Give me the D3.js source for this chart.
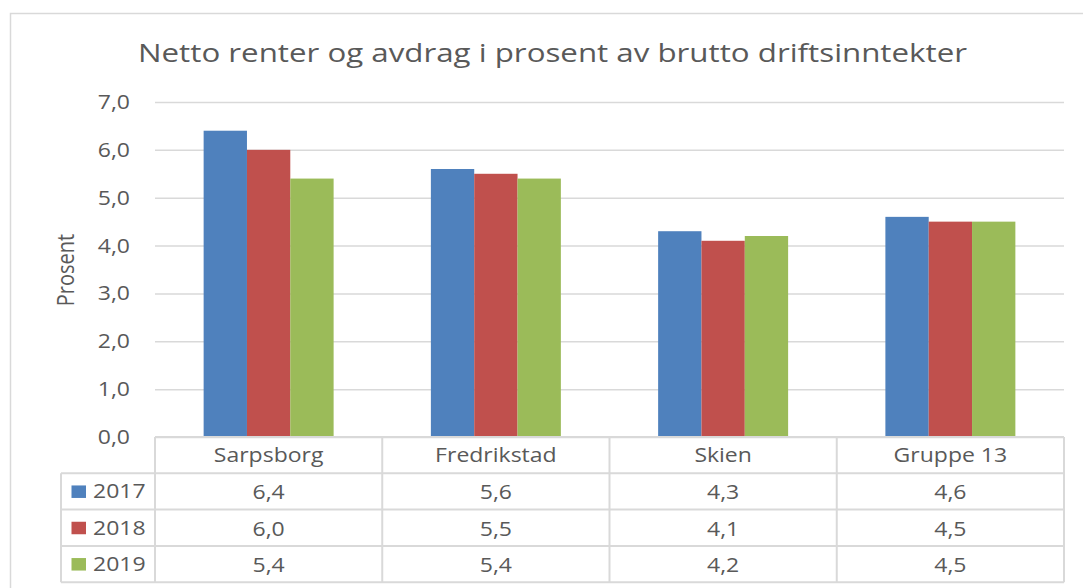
<!DOCTYPE html>
<html>
<head>
<meta charset="utf-8">
<script src="https://cdnjs.cloudflare.com/ajax/libs/d3/7.8.5/d3.min.js"></script>
<style>
    html, body { margin: 0; padding: 0; background: #fff; }
    #chart { width: 1083px; height: 588px; }
    text { font-family: "Open Sans", sans-serif; fill: #595959; }
</style>
</head>
<body>
<div id="chart"></div>
<script>
// data
const categories = ["Sarpsborg", "Fredrikstad", "Skien", "Gruppe 13"];
const seriesNames = ["2017", "2018", "2019"];
const values2017 = [6.4, 5.6, 4.3, 4.6];
const values2018 = [6.0, 5.5, 4.1, 4.5];
const values2019 = [5.4, 5.4, 4.2, 4.5];
const yTicks = [0, 1, 2, 3, 4, 5, 6, 7];
const titleText = "Netto renter og avdrag i prosent av brutto driftsinntekter";
const yLabel = "Prosent";

function TableBarChart() {

    let self = this;

    self.initialize = function(conf) {
        self.el = document.getElementById(conf.el);
        self.width = 1083;
        self.height = 588;
        self.color = conf.color;
        self.sx = 1.15;      // the source text is a bit wider than normal
        self.grid = "#d9d9d9";

        self.plot = {left: 155, right: 1064, top: 102, bottom: 437};
        self.rowH = 36.3;
        self.legendLeft = 61;

        self.series = seriesNames.map(function(name, i) {
            return {name: name, values: conf.values[i], index: i};
        });

        self.fmt = function(v) { return d3.format(".1f")(v).replace(".", ","); };

        self.render();
    };

    self.text = function(g, x, y, s, size, anchor, rotate) {
        return g.append("text")
            .attr("transform", "translate(" + x + "," + y + ") scale(" + self.sx + ",1)" + (rotate ? " rotate(" + rotate + ")" : ""))
            .attr("text-anchor", anchor || "middle")
            .style("font-size", size + "px")
            .text(s);
    };

    self.render = function() {
        self.svg = d3.select(self.el).append("svg")
            .attr("width", self.width)
            .attr("height", self.height);

        // outer chart border
        self.svg.append("rect")
            .attr("x", 10.5).attr("y", 13.5)
            .attr("width", 1100).attr("height", 600)
            .attr("fill", "none")
            .attr("stroke", self.grid)
            .attr("stroke-width", 1.5);

        self.x = d3.scaleBand()
            .domain(categories)
            .range([self.plot.left, self.plot.right])
            .paddingInner(0.428)
            .paddingOuter(0.214);

        self.xs = d3.scaleBand()
            .domain(seriesNames)
            .range([0, self.x.bandwidth()]);

        self.y = d3.scaleLinear()
            .domain([0, 7])
            .range([self.plot.bottom, self.plot.top]);

        self.svg.append("text")
            .attr("x", 552.5)
            .attr("y", 62)
            .attr("text-anchor", "middle")
            .attr("textLength", 829)
            .attr("lengthAdjust", "spacingAndGlyphs")
            .style("font-size", "25px")
            .text(titleText);

        self.renderGrid();
        self.renderBars();
        self.renderTable();
    };

    self.renderGrid = function() {
        let yAxis = d3.axisLeft(self.y)
            .tickValues(yTicks)
            .tickSize(-(self.plot.right - self.plot.left))
            .tickFormat("");

        let ga = self.svg.append("g")
            .attr("transform", "translate(" + self.plot.left + ",0)")
            .call(yAxis);
        ga.select(".domain").remove();
        ga.selectAll(".tick line")
            .attr("stroke", self.grid)
            .attr("stroke-width", 1.5);

        yTicks.forEach(function(t) {
            self.text(self.svg, 130, self.y(t) + 7, self.fmt(t), 20, "end");
        });

        self.text(self.svg, 74, 270, yLabel, 20, "middle", -90);
    };

    self.renderBars = function() {
        let groups = self.svg.selectAll("g.series")
            .data(self.series)
            .enter()
            .append("g")
            .attr("class", "series")
            .attr("fill", function(d) { return self.color[d.index]; });

        groups.selectAll("rect")
            .data(function(d) {
                return d.values.map(function(v, i) { return {cat: categories[i], name: d.name, value: v}; });
            })
            .enter()
            .append("rect")
            .attr("x", function(d) { return self.x(d.cat) + self.xs(d.name); })
            .attr("width", self.xs.bandwidth())
            .attr("y", function(d) { return self.y(d.value); })
            .attr("height", function(d) { return self.y(0) - self.y(d.value); });
    };

    self.renderTable = function() {
        let g = self.svg.append("g").attr("class", "data-table");
        let top = self.plot.bottom;
        let rowH = self.rowH;
        let nRows = self.series.length + 1;
        let bottom = top + nRows * rowH;
        let step = self.x.step();
        let colEdges = categories.map(function(c, i) { return self.plot.left + i * step; });
        colEdges.push(self.plot.right);

        let line = function(x1, y1, x2, y2) {
            g.append("line")
                .attr("x1", x1).attr("y1", y1)
                .attr("x2", x2).attr("y2", y2)
                .attr("stroke", self.grid)
                .attr("stroke-width", 2);
        };

        // horizontal lines
        line(self.plot.left, top, self.plot.right, top);
        for (let r = 1; r <= nRows; r++) {
            line(self.legendLeft, top + r * rowH, self.plot.right, top + r * rowH);
        }
        // vertical lines
        colEdges.forEach(function(x) { line(x, top, x, bottom); });
        line(self.legendLeft, top + rowH, self.legendLeft, bottom);

        // header row
        categories.forEach(function(c) {
            self.text(g, self.x(c) + self.x.bandwidth() / 2, top + rowH / 2 + 7, c, 20);
        });

        // series rows
        self.series.forEach(function(s, r) {
            let cy = top + (r + 1) * rowH + rowH / 2;
            g.append("rect")
                .attr("x", 71.5).attr("y", cy - 6)
                .attr("width", 14.5).attr("height", 12.5)
                .attr("fill", self.color[s.index]);
            self.text(g, 93, cy + 7, s.name, 20, "start");
            s.values.forEach(function(v, i) {
                self.text(g, self.x(categories[i]) + self.x.bandwidth() / 2, cy + 8, self.fmt(v), 20);
            });
        });
    };
}

let chart = new TableBarChart();
chart.initialize({
    el: "chart",
    color: ["#4f81bd", "#c0504d", "#9bbb59"],
    values: [values2017, values2018, values2019]
});
</script>
</body>
</html>
